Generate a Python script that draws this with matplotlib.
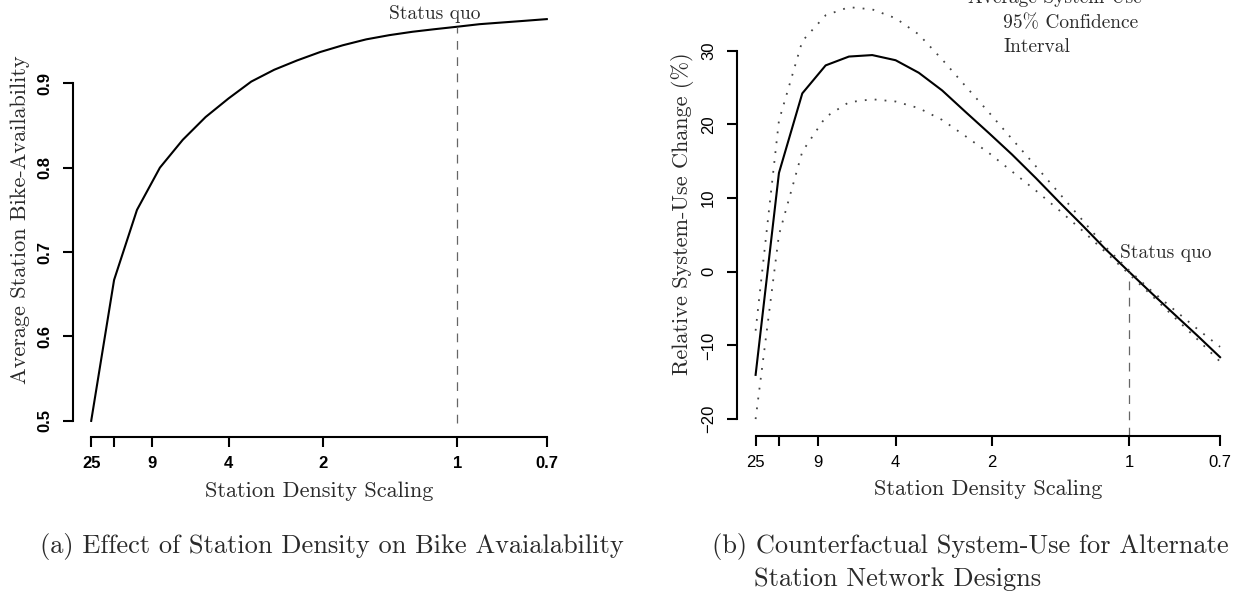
import numpy as np
import matplotlib
matplotlib.use("Agg")
import matplotlib.pyplot as plt

# ---------------- data ----------------
density = [25, 16, 11.11, 8.16, 6.25, 4.94, 4, 3.31, 2.78, 2.37, 2.04,
           1.78, 1.56, 1.38, 1.23, 1.11, 1, 0.91, 0.83, 0.76, 0.7]

availability = [0.500, 0.667, 0.750, 0.800, 0.833, 0.860, 0.882, 0.902, 0.916,
                0.927, 0.937, 0.945, 0.952, 0.957, 0.961, 0.964, 0.967, 0.970,
                0.972, 0.974, 0.976]

use_mean = [-14.0, 13.4, 24.2, 28.0, 29.2, 29.4, 28.7, 27.0, 24.6, 21.7, 18.8,
            15.9, 12.7, 9.4, 6.2, 3.1, 0.0, -2.9, -5.8, -8.7, -11.6]
use_upper = [-8.0, 20.5, 31.3, 34.8, 35.9, 35.6, 34.4, 32.2, 28.8, 25.2, 21.6,
             18.0, 14.3, 10.6, 6.9, 3.4, 0.2, -2.6, -5.2, -7.8, -10.2]
use_lower = [-20.0, 5.0, 16.3, 21.0, 23.0, 23.4, 23.1, 22.2, 20.6, 18.4, 16.1,
             13.6, 11.0, 8.3, 5.5, 2.7, -0.3, -3.2, -6.2, -9.2, -12.2]

x_ticks = [25, 16, 9, 4, 2, 1, 0.7]
x_ticklabels = ["25", "", "9", "4", "2", "1", "0.7"]
left_yticks = [0.5, 0.6, 0.7, 0.8, 0.9]
left_yticklabels = ["0.5", "0.6", "0.7", "0.8", "0.9"]
right_yticks = [-20, -10, 0, 10, 20, 30]
right_yticklabels = ["\u221220", "\u221210", "0", "10", "20", "30"]
status_quo = 1

# ---------------- style ----------------
SERIF = "cmr10"
SANS = ["Liberation Sans", "DejaVu Sans"]
TXT = "#2a2a2a"


def fwd(s):
    s = np.asarray(s, dtype=float)
    with np.errstate(divide="ignore", invalid="ignore"):
        return 1.0 / np.sqrt(np.abs(s))


def inv(u):
    u = np.asarray(u, dtype=float)
    with np.errstate(divide="ignore", invalid="ignore"):
        return 1.0 / (u * u)


fig = plt.figure(figsize=(12.41, 5.98), dpi=100)

ax1 = fig.add_axes([0.0588, 0.2692, 0.3965, 0.7258])
ax2 = fig.add_axes([0.5939, 0.2716, 0.4042, 0.7435])

# x limits: 4% extension on the 1/sqrt scale (R style)
u_lo, u_hi = fwd(25), fwd(0.7)
ext = 0.04 * (u_hi - u_lo)
xl, xr = float(inv(u_lo - ext)), float(inv(u_hi + ext))


def style_axis(ax, yticks, ylabels, ybounds, bold):
    ax.set_xscale("function", functions=(fwd, inv))
    ax.set_xlim(xr, xl)
    for sp in ["top", "right"]:
        ax.spines[sp].set_visible(False)
    for sp in ["left", "bottom"]:
        ax.spines[sp].set_linewidth(1.5)
    ax.spines["bottom"].set_bounds(25, 0.7)
    ax.spines["left"].set_bounds(*ybounds)
    ax.set_xticks(x_ticks)
    ax.set_xticklabels(x_ticklabels)
    ax.set_yticks(yticks)
    ax.set_yticklabels(ylabels, rotation=90, va="center")
    ax.minorticks_off()
    ax.tick_params(axis="both", direction="out", length=7, width=1.5,
                   labelsize=12, colors="black")
    ax.tick_params(axis="x", pad=7)
    ax.tick_params(axis="y", pad=8)
    for lab in ax.get_xticklabels() + ax.get_yticklabels():
        lab.set_family(SANS)
        lab.set_fontweight("bold" if bold else "normal")
    ax.set_xlabel("Station Density Scaling", family=SERIF, fontsize=16,
                  color=TXT, labelpad=7)
    ax.patch.set_visible(False)


# ---------------- left panel ----------------
ax1.set_ylim(0.4809, 0.9951)
style_axis(ax1, left_yticks, left_yticklabels, (0.5, 0.9), True)
ax1.plot(density, availability, color="black", lw=1.5)
ax1.plot([status_quo, status_quo], [0.497, 0.967], color="#666666", lw=0.9,
         linestyle=(0, (7, 6)))
ax1.text(1.108, 0.982, "Status quo", family=SERIF, fontsize=14, color=TXT,
         ha="center", va="center")
ax1.set_ylabel("Average Station Bike-Availability", family=SERIF, fontsize=16,
               color=TXT, labelpad=5)

# ---------------- right panel ----------------
ax2.set_ylim(-22.24, 38.1)
style_axis(ax2, right_yticks, right_yticklabels, (-20, 30), False)
ax2.plot(density, use_mean, color="black", lw=1.5)
ax2.plot(density, use_upper, color="#444444", lw=1.3, linestyle=(0, (1, 4.5)))
ax2.plot(density, use_lower, color="#444444", lw=1.3, linestyle=(0, (1, 4.5)))
ax2.plot([status_quo, status_quo], [-22.24, 0.0], color="#666666", lw=0.9,
         linestyle=(0, (7, 6)))
ax2.text(0.859, 2.5, "Status quo", family=SERIF, fontsize=14, color=TXT,
         ha="center", va="center")
ax2.set_ylabel("Relative System-Use Change (%)", family=SERIF, fontsize=16,
               color=TXT, labelpad=5)

# legend-like texts (cut by the top of the figure in the reference)
fig.text(968 / 1241, 1 + 2 / 598, "Average System-Use", family=SERIF,
         fontsize=14, color=TXT, ha="left", va="center")
fig.text(1003 / 1241, 1 - 23 / 598, "95% Confidence", family=SERIF,
         fontsize=14, color=TXT, ha="left", va="center")
fig.text(1003 / 1241, 1 - 47 / 598, "Interval", family=SERIF,
         fontsize=14, color=TXT, ha="left", va="center")

# captions
fig.text(40 / 1241, 1 - 547 / 598,
         "(a) Effect of Station Density on Bike Avaialability",
         family=SERIF, fontsize=19, color=TXT, ha="left", va="center")
fig.text(712 / 1241, 1 - 547 / 598,
         "(b) Counterfactual System-Use for Alternate",
         family=SERIF, fontsize=19, color=TXT, ha="left", va="center")
fig.text(754 / 1241, 1 - 579 / 598, "Station Network Designs",
         family=SERIF, fontsize=19, color=TXT, ha="left", va="center")

fig.savefig("out.png", dpi=100)
